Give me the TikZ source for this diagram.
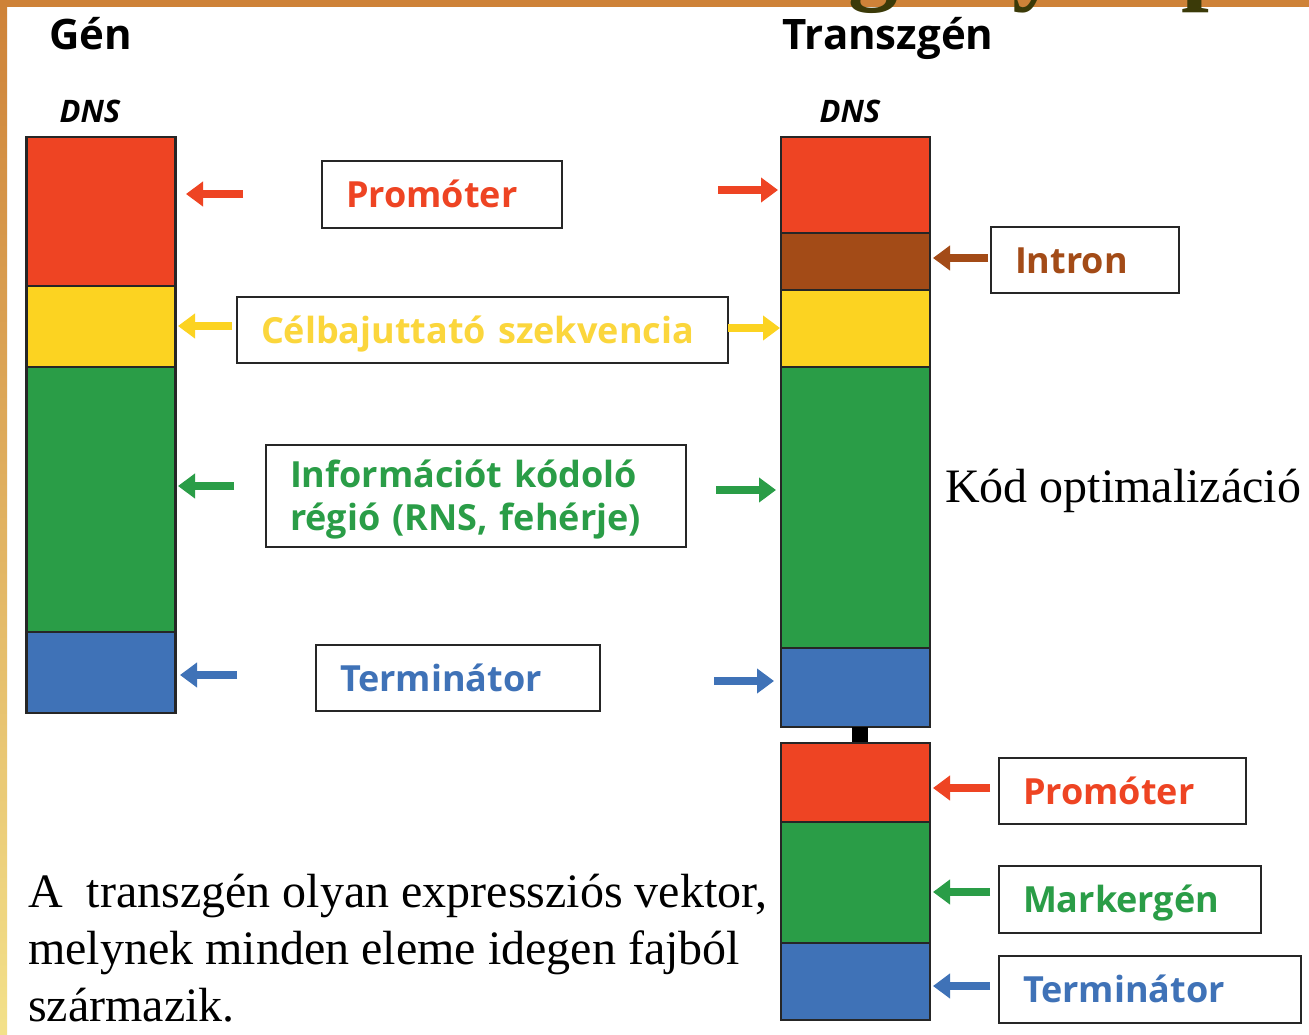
\documentclass[tikz,border=0pt]{standalone}
\usepackage{fontspec}
\setmainfont{Liberation Serif}
\newfontfamily\labfont{Open Sans}
\newfontfamily\titlefont{Liberation Serif}
\usetikzlibrary{arrows.meta}
\definecolor{cred}{HTML}{EE4423}
\definecolor{cyel}{HTML}{FCD321}
\definecolor{cgrn}{HTML}{2A9D47}
\definecolor{cblu}{HTML}{3F72B7}
\definecolor{cbrn}{HTML}{A34B17}
\definecolor{tyel}{HTML}{FBD63C}
\definecolor{corange}{HTML}{CE8238}
\definecolor{cstripe}{HTML}{F3E18A}
\definecolor{colive}{HTML}{3B3A08}
\begin{document}
\begin{tikzpicture}[x=1pt,y=-1pt,
  seg/.style={draw=black!85, line width=2.5pt, inner sep=0pt, outer sep=0pt, minimum width=149pt},
  lbox/.style={draw=black!85, line width=2pt, anchor=north west, inner xsep=24pt, inner ysep=0pt,
    align=left, text height=26pt, text depth=0pt,
    font=\labfont\bfseries\fontsize{36}{43}\selectfont},
  arr/.style={line width=8pt, -{Triangle[width=24pt,length=17pt]}},
  head/.style={anchor=base west, font=\labfont\bfseries\fontsize{42}{42}\selectfont},
  dns/.style={anchor=base west, font=\labfont\bfseries\itshape\fontsize{31}{31}\selectfont},
  serif/.style={anchor=base west, inner sep=0pt, font=\fontsize{48}{57}\selectfont},
  glyph/.style={anchor=base west, inner sep=0pt, text=colive, font=\titlefont\bfseries\fontsize{100}{100}\selectfont}
]
\path[use as bounding box] (0,0) rectangle (1309,1035);
\fill[white] (0,0) rectangle (1309,1035);
% frame decoration
\shade[top color=corange, bottom color=cstripe] (0,0) rectangle (7,1035);
\fill[corange] (0,0) rectangle (1309,7);
\begin{scope}
  \clip (0,0) rectangle (1309,1035);
  \node[glyph] (g1) at (848,-8) {g};
  \node[glyph] (g2) at (1012,-8) {y};
  \node[glyph] (g3) at (1181,-8) {p};
\end{scope}

% headers
\node[head] (hgen) at (46,50) {Gén};
\node[head] (htr) at (779,50) {Transzgén};
\node[dns] (dns1) at (56,123) {DNS};
\node[dns] (dns2) at (816,123) {DNS};

% left bar (Gén)
\node[seg, fill=cred, minimum height=149pt] (gP) at (101,211.5) {};
\node[seg, fill=cyel, minimum height=81pt] (gC) at (101,326.5) {};
\node[seg, fill=cgrn, minimum height=265pt] (gI) at (101,499.5) {};
\node[seg, fill=cblu, minimum height=81pt] (gT) at (101,672.5) {};

% right bar (Transzgén)
\node[seg, fill=cred, minimum height=96pt] (tP) at (855.5,185) {};
\node[seg, fill=cbrn, minimum height=57pt] (tIn) at (855.5,261.5) {};
\node[seg, fill=cyel, minimum height=77pt] (tC) at (855.5,328.5) {};
\node[seg, fill=cgrn, minimum height=281pt] (tI) at (855.5,507.5) {};
\node[seg, fill=cblu, minimum height=79pt] (tT) at (855.5,687.5) {};
\node[fill=black, inner sep=0pt, minimum width=16pt, minimum height=17pt] (link) at (860,735) {};
\node[seg, fill=cred, minimum height=79pt] (mP) at (855.5,782.5) {};
\node[seg, fill=cgrn, minimum height=121pt] (mM) at (855.5,882.5) {};
\node[seg, fill=cblu, minimum height=77pt] (mT) at (855.5,981.5) {};

% label boxes
\node[lbox, text=cred, text width=192pt, minimum height=67pt] (bP) at (321,160) {Promóter};
\node[lbox, text=tyel, text width=443pt, minimum height=66pt] (bC) at (236,296) {Célbajuttató szekvencia};
\node[lbox, text=cgrn, text width=372pt, minimum height=102pt, text depth=43pt] (bI) at (265,444) {Információt kódoló\\régió (RNS, fehérje)};
\node[lbox, text=cblu, text width=236pt, minimum height=66pt] (bT) at (315,644) {Terminátor};
\node[lbox, text=cbrn, text width=140pt, minimum height=66pt] (bIn) at (990,226) {Intron};
\node[lbox, text=cred, text width=199pt, minimum height=66pt] (bP2) at (998,757) {Promóter};
\node[lbox, text=cgrn, text width=214pt, minimum height=67pt] (bM) at (998,865) {Markergén};
\node[lbox, text=cblu, text width=254pt, minimum height=67pt] (bT2) at (998,955) {Terminátor};

% arrow end points
\coordinate (la1) at (243,194); \coordinate (lb1) at (186,194);
\coordinate (la2) at (232,326); \coordinate (lb2) at (178,326);
\coordinate (la3) at (234,486); \coordinate (lb3) at (178,486);
\coordinate (la4) at (237,675); \coordinate (lb4) at (180,675);
\coordinate (ra1) at (718,190); \coordinate (rb1) at (778,190);
\coordinate (ra2) at (728,328); \coordinate (rb2) at (780,328);
\coordinate (ra3) at (716,490); \coordinate (rb3) at (776,490);
\coordinate (ra4) at (714,681); \coordinate (rb4) at (774,681);
\coordinate (ia) at (988,258); \coordinate (ib) at (933,258);
\coordinate (pa) at (990,788); \coordinate (pb) at (933,788);
\coordinate (ma) at (990,892); \coordinate (mb) at (933,892);
\coordinate (ta) at (990,986); \coordinate (tb) at (933,986);

\draw[arr, cred] (la1) -- (lb1);
\draw[arr, cyel] (la2) -- (lb2);
\draw[arr, cgrn] (la3) -- (lb3);
\draw[arr, cblu] (la4) -- (lb4);
\draw[arr, cred] (ra1) -- (rb1);
\draw[arr, cyel] (ra2) -- (rb2);
\draw[arr, cgrn] (ra3) -- (rb3);
\draw[arr, cblu] (ra4) -- (rb4);
\draw[arr, cbrn] (ia) -- (ib);
\draw[arr, cred] (pa) -- (pb);
\draw[arr, cgrn] (ma) -- (mb);
\draw[arr, cblu] (ta) -- (tb);

% serif texts
\node[serif] (kod) at (945,502) {Kód optimalizáció};
\node[serif] (s1) at (28,907) {A\ \ transzgén olyan expressziós vektor,};
\node[serif] (s2) at (28,964) {melynek minden eleme idegen fajból};
\node[serif] (s3) at (28,1021) {származik.};
\end{tikzpicture}
\end{document}
